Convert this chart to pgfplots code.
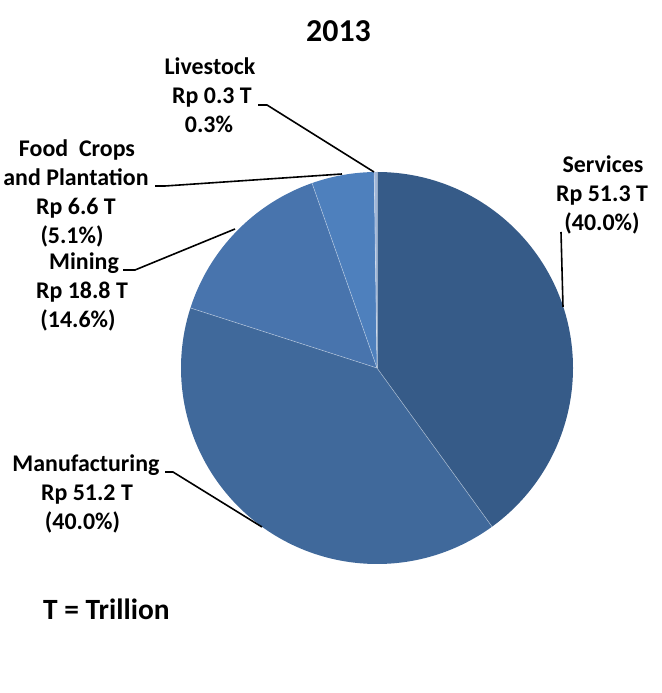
\documentclass[border=0pt]{standalone}
\usepackage{pgfplots}
\usepackage{pgfplotstable}
\pgfplotsset{compat=1.18}
\usepackage{fontspec}
\setmainfont{Carlito}

\definecolor{cServ}{HTML}{365B88}
\definecolor{cManu}{HTML}{40699B}
\definecolor{cMin}{HTML}{4874AD}
\definecolor{cFood}{HTML}{4E80BD}
\definecolor{cLive}{HTML}{A0B6D8}

\pgfplotstableread{
name value
Services 51.3
Manufacturing 51.2
Mining 18.8
Food 6.6
Livestock 0.3
}\piedata

\pgfplotstablegetelem{0}{value}\of\piedata \let\vA\pgfplotsretval
\pgfplotstablegetelem{1}{value}\of\piedata \let\vB\pgfplotsretval
\pgfplotstablegetelem{2}{value}\of\piedata \let\vC\pgfplotsretval
\pgfplotstablegetelem{3}{value}\of\piedata \let\vD\pgfplotsretval
\pgfplotstablegetelem{4}{value}\of\piedata \let\vE\pgfplotsretval
\pgfmathsetmacro{\tot}{\vA+\vB+\vC+\vD+\vE}
\pgfmathsetmacro{\aA}{90}
\pgfmathsetmacro{\aB}{\aA-360*(\vA/\tot)}
\pgfmathsetmacro{\aC}{\aB-360*(\vB/\tot)}
\pgfmathsetmacro{\aD}{\aC-360*(\vC/\tot)}
\pgfmathsetmacro{\aE}{\aD-360*(\vD/\tot)}
\pgfmathsetmacro{\aF}{\aE-360*(\vE/\tot)}

\newcommand{\lab}[3]{\node[anchor=base,inner sep=0pt,font=\fontsize{24}{29}\selectfont\bfseries] at (axis cs:#1,693-#2) {#3};}
\newcommand{\slice}[3]{\fill[#3] (axis cs:377,325) -- ++(#1:196bp) arc[start angle=#1,end angle=#2,radius=196bp] -- cycle;}
\newcommand{\sep}[1]{\draw[white,opacity=0.45,line width=0.6bp] (axis cs:377,325) -- ++(#1:196bp);}

\begin{document}
\begin{tikzpicture}
\begin{axis}[
  scale only axis, width=662bp, height=693bp,
  xmin=0, xmax=662, ymin=0, ymax=693,
  hide axis, clip=false]
\path (axis cs:0,0) rectangle (axis cs:662,693);
\slice{\aA}{\aB}{cServ}
\slice{\aB}{\aC}{cManu}
\slice{\aC}{\aD}{cMin}
\slice{\aD}{\aE}{cFood}
\slice{\aE}{\aF}{cLive}
\sep{\aA}
\sep{\aB}
\sep{\aC}
\sep{\aD}
\sep{\aE}
% leader lines
\draw[black,line width=1.6bp] (axis cs:561,693-232) -- (axis cs:563,693-307);
\draw[black,line width=1.6bp] (axis cs:258,693-105) -- (axis cs:267,693-105) -- (axis cs:374,693-172);
\draw[black,line width=1.6bp] (axis cs:155,693-186) -- (axis cs:165,693-186) -- (axis cs:342,693-174);
\draw[black,line width=1.6bp] (axis cs:123,693-270) -- (axis cs:135,693-270) -- (axis cs:235,693-229);
\draw[black,line width=1.6bp] (axis cs:165,693-472) -- (axis cs:173,693-472) -- (axis cs:262,693-527);
% title
\node[anchor=base,inner sep=0pt,font=\fontsize{32}{38}\selectfont\bfseries] at (axis cs:338.5,693-42) {2013};
% labels
\lab{603}{173}{Services}
\lab{602}{202}{Rp 51.3 T}
\lab{602}{231}{(40.0\%)}
\lab{210}{75}{Livestock}
\lab{212}{104}{Rp 0.3 T}
\lab{209}{133}{0.3\%}
\lab{77}{157}{Food\ \ Crops}
\lab{76}{186}{and Plantation}
\lab{76}{215}{Rp 6.6 T}
\lab{72}{244}{(5.1\%)}
\lab{84}{270}{Mining}
\lab{82}{299}{Rp 18.8 T}
\lab{78}{328}{(14.6\%)}
\lab{86}{472}{Manufacturing}
\lab{87}{501}{Rp 51.2 T}
\lab{82.5}{530}{(40.0\%)}
\node[anchor=base west,inner sep=0pt,font=\fontsize{29.5}{35}\selectfont\bfseries] at (axis cs:43,693-620) {T = Trillion};
\end{axis}
\end{tikzpicture}
\end{document}
